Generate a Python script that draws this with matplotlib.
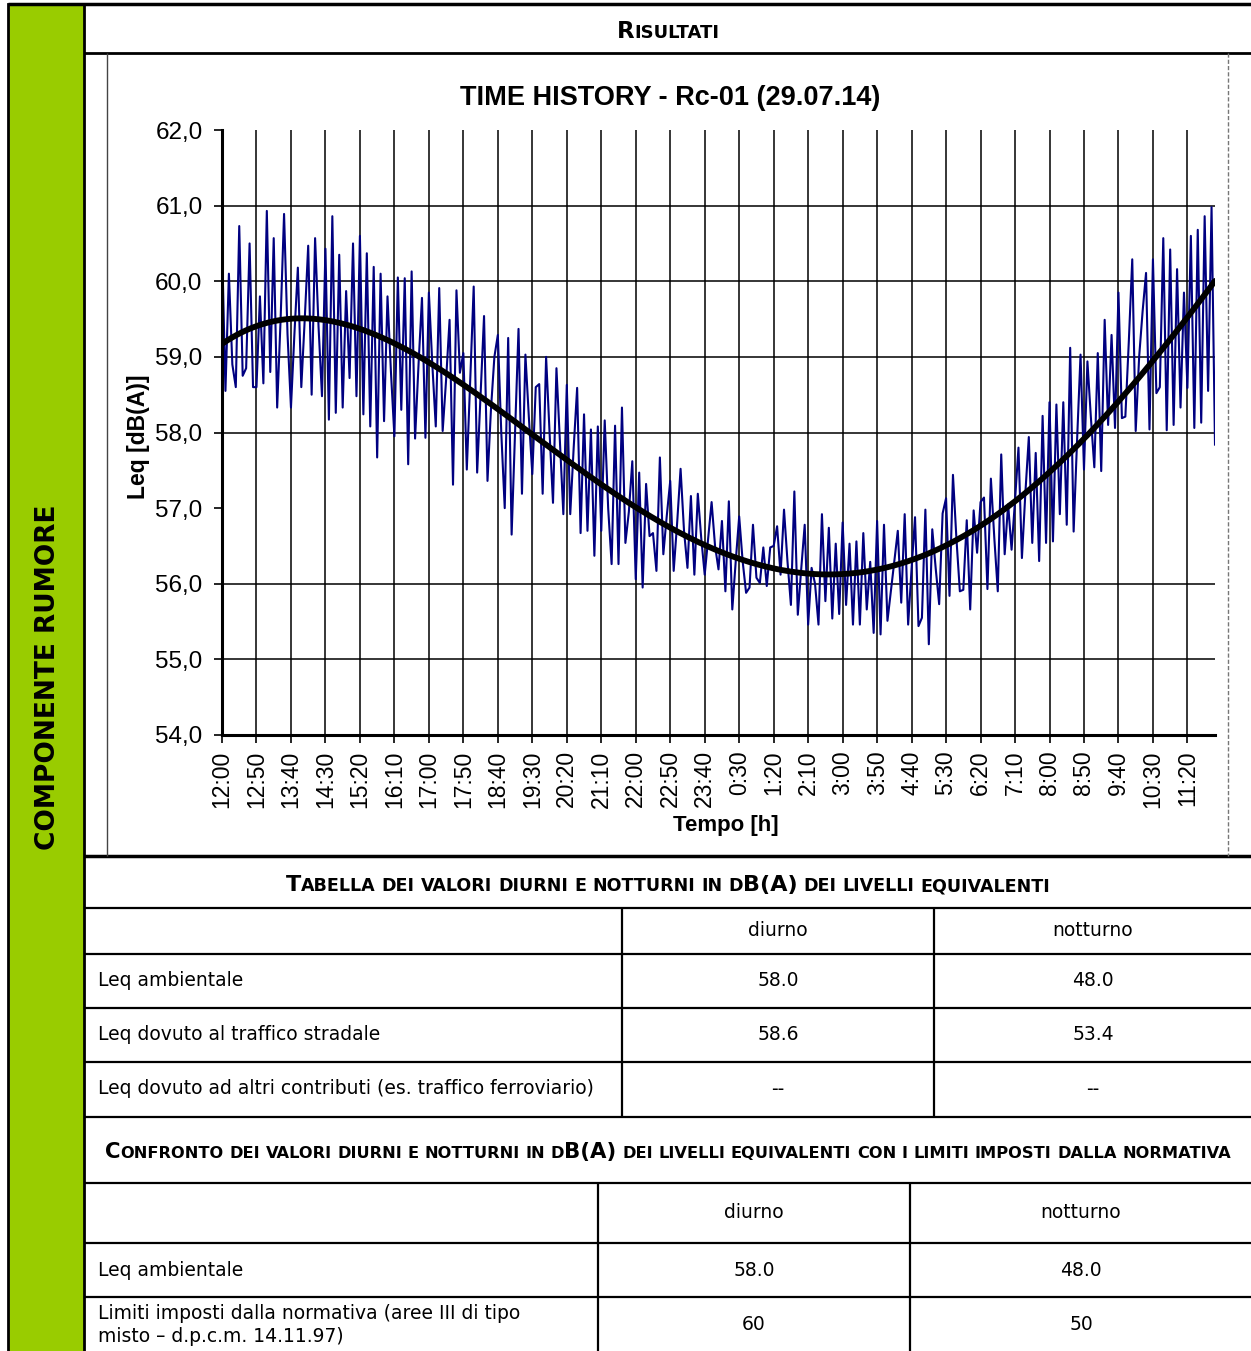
import numpy as np
import matplotlib
matplotlib.use("Agg")
import matplotlib.pyplot as plt
from matplotlib.patches import Rectangle

# ---------------- data ----------------
time_labels = ["12:00", "12:50", "13:40", "14:30", "15:20", "16:10", "17:00", "17:50",
               "18:40", "19:30", "20:20", "21:10", "22:00", "22:50", "23:40", "0:30",
               "1:20", "2:10", "3:00", "3:50", "4:40", "5:30", "6:20", "7:10", "8:00",
               "8:50", "9:40", "10:30", "11:20"]
label_every_min = 50
step_min = 5
total_min = 1440

leq_values = [
    60.5, 58.55, 60.1, 58.9, 58.6, 60.73, 58.75, 58.85, 60.5, 58.6,
    58.6, 59.8, 58.65, 60.93, 58.8, 60.57, 58.33, 59.5, 60.89, 59.3,
    58.33, 59.3, 60.18, 58.6, 59.5, 60.47, 58.5, 60.57, 59.4, 58.48,
    60.43, 58.17, 60.86, 58.26, 60.35, 58.33, 59.87, 58.72, 60.5, 58.48,
    60.6, 58.24, 60.37, 58.08, 60.19, 57.67, 60.1, 58.15, 59.8, 58.8,
    57.95, 60.05, 58.3, 60.04, 57.58, 60.13, 57.92, 58.9,
    59.78, 57.93, 59.85, 58.9, 58.08, 59.91, 58.02, 58.7, 59.49, 57.31,
    59.88, 58.79, 59.05, 57.51, 58.7, 59.93, 57.47, 58.5, 59.54, 57.36,
    58.3, 59.0, 59.29, 58.0, 57.0, 59.25, 56.65, 58.0, 59.37, 57.19,
    59.03, 58.2, 57.45, 58.6, 58.64, 57.19, 59.0, 58.0, 57.07, 58.85,
    57.9, 56.92, 58.63, 56.92, 57.8, 58.59, 56.67, 58.24, 56.7, 58.04,
    56.37, 58.08, 56.7, 58.16, 57.0, 56.26, 58.09, 56.26,
    58.33, 56.54, 56.95, 57.62, 56.06, 57.47, 55.95, 57.32, 56.63, 56.67,
    56.17, 57.67, 56.39, 56.9, 57.36, 56.17, 56.8, 57.52, 56.7, 56.21,
    57.16, 56.12, 57.19, 56.6, 56.12, 56.6, 57.08, 56.5, 56.19, 56.83,
    55.9, 57.09, 55.66, 56.3, 56.89, 56.3, 55.88, 55.95, 56.78, 56.08,
    56.01, 56.48, 55.97, 56.48, 56.5, 56.76, 56.12, 56.98, 56.3, 55.72,
    57.22, 55.59, 56.2, 56.78, 55.46, 56.21, 56.0, 55.46,
    56.92, 55.77, 56.74, 55.54, 56.53, 55.6, 56.81, 55.72, 56.53, 55.46,
    56.56, 55.46, 56.67, 55.66, 56.29, 55.35, 56.83, 55.33, 56.78, 55.51,
    55.9, 56.3, 56.7, 55.75, 56.92, 55.46, 56.2, 56.88, 55.44, 55.55,
    56.98, 55.2, 56.72, 56.2, 55.73, 56.93, 57.13, 55.84, 57.44, 56.6,
    55.9, 55.92, 56.84, 55.66, 56.97, 56.41, 57.08, 57.14, 55.93, 57.39,
    56.6, 55.9, 57.71, 56.39, 57.05, 56.45, 57.1, 57.8,
    56.34, 57.2, 57.94, 56.54, 57.73, 56.3, 58.22, 56.54, 58.4, 56.56,
    58.37, 56.92, 58.4, 56.78, 59.12, 56.69, 57.9, 59.03, 57.51, 58.94,
    58.2, 57.54, 59.05, 57.49, 59.49, 58.1, 59.29, 58.06, 59.85, 58.19,
    58.21, 59.2, 60.29, 58.02, 59.0, 59.6, 60.11, 58.04, 60.29, 58.52,
    58.6, 60.57, 58.03, 60.42, 58.1, 60.16, 58.33, 59.85, 58.59, 60.6,
    58.06, 60.68, 58.13, 60.86, 58.55, 60.98, 57.84,
]
y_ticks = [54, 55, 56, 57, 58, 59, 60, 61, 62]
y_grid_hidden = [54, 57, 62]
trend_degree = 4

table1_cols = ["diurno", "notturno"]
table1_rows = ["Leq ambientale", "Leq dovuto al traffico stradale",
               "Leq dovuto ad altri contributi (es. traffico ferroviario)"]
table1_diurno = ["58.0", "58.6", "--"]
table1_notturno = ["48.0", "53.4", "--"]
table2_cols = ["diurno", "notturno"]
table2_rows = ["Leq ambientale",
               "Limiti imposti dalla normativa (aree III di tipo\nmisto \u2013 d.p.c.m. 14.11.97)"]
table2_diurno = ["58.0", "60"]
table2_notturno = ["48.0", "50"]

chart_title = "TIME HISTORY - Rc-01 (29.07.14)"
y_label = "Leq [dB(A)]"
x_label = "Tempo [h]"
side_label = "COMPONENTE RUMORE"
header_main = "Risultati"
header_t1 = "Tabella dei valori diurni e notturni in dB(A) dei livelli equivalenti"
header_t2 = ("Confronto dei valori diurni e notturni in dB(A) dei livelli equivalenti "
             "con i limiti imposti dalla normativa")

# ---------------- figure ----------------
W, H = 1251, 1351
fig = plt.figure(figsize=(W / 100, H / 100), dpi=100)
bg = fig.add_axes([0, 0, 1, 1], zorder=0)
bg.set_xlim(0, W)
bg.set_ylim(H, 0)
bg.axis("off")

GREEN = "#99CC00"
TF = "DejaVu Sans"
AF = "Liberation Sans"

bg.add_patch(Rectangle((8, 4), 76, H, facecolor=GREEN, edgecolor="black", lw=2))
bg.text(48, 677, side_label, rotation=90, ha="center", va="center",
        fontsize=19, fontweight="bold", family=TF)

def hline(y, x0, x1, lw=1.6, color="black", ls="-"):
    bg.plot([x0, x1], [y, y], color=color, lw=lw, ls=ls, solid_capstyle="butt")

def vline(x, y0, y1, lw=1.6, color="black", ls="-"):
    bg.plot([x, x], [y0, y1], color=color, lw=lw, ls=ls, solid_capstyle="butt")

hline(4, 8, W, lw=2.5)
hline(53, 84, W, lw=2)
hline(856, 84, W, lw=2.5)
for yy in [908, 954, 1008, 1062, 1117, 1183, 1243, 1297]:
    hline(yy, 84, W, lw=1.6)
for xx in [622, 934]:
    vline(xx, 908, 1117)
for xx in [598, 910]:
    vline(xx, 1183, H)
vline(107, 53, 856, lw=1.0, color="#444444")
vline(1228, 53, 856, lw=1.0, color="#777777", ls=(0, (3, 1.5)))

renderer = fig.canvas.get_renderer()

def smallcaps(cx, baseline, s, big, small):
    tokens = []
    for ch in s:
        kind = "space" if ch == " " else ("small" if ch.islower() else "big")
        if tokens and tokens[-1][0] == kind and kind != "space":
            tokens[-1][1] += ch
        else:
            tokens.append([kind, ch])
    t1 = bg.text(0, 0, "x x", fontsize=small, fontweight="bold", family=TF)
    t2 = bg.text(0, 0, "xx", fontsize=small, fontweight="bold", family=TF)
    sp = t1.get_window_extent(renderer).width - t2.get_window_extent(renderer).width
    t1.remove(); t2.remove()
    items = []
    for kind, txt in tokens:
        if kind == "space":
            items.append((None, sp))
        else:
            t = bg.text(0, baseline, txt.upper(), fontsize=big if kind == "big" else small,
                        fontweight="bold", family=TF, ha="left", va="baseline")
            items.append((t, t.get_window_extent(renderer).width))
    total = sum(w for _, w in items)
    x = cx - total / 2
    for t, w in items:
        if t is not None:
            t.set_x(x)
        x += w

smallcaps(668, 38, header_main, 16.5, 13)
smallcaps(668, 891, header_t1, 16, 12.6)
smallcaps(668, 1158, header_t2, 15.3, 11.7)

# tables
TS = 13.5
for i, c in enumerate(table1_cols):
    cx = [778, 1093][i]
    bg.text(cx, 931, c, ha="center", va="center", fontsize=TS, family=TF)
row_y1 = [981, 1035, 1089]
for i, r in enumerate(table1_rows):
    bg.text(98, row_y1[i], r, ha="left", va="center", fontsize=TS, family=TF)
    bg.text(778, row_y1[i], table1_diurno[i], ha="center", va="center", fontsize=TS, family=TF)
    bg.text(1093, row_y1[i], table1_notturno[i], ha="center", va="center", fontsize=TS, family=TF)
for i, c in enumerate(table2_cols):
    cx = [754, 1081][i]
    bg.text(cx, 1213, c, ha="center", va="center", fontsize=TS, family=TF)
row_y2 = [1270, 1325]
for i, r in enumerate(table2_rows):
    bg.text(98, row_y2[i], r, ha="left", va="center", fontsize=TS, family=TF, linespacing=1.25)
    bg.text(754, row_y2[i], table2_diurno[i], ha="center", va="center", fontsize=TS, family=TF)
    bg.text(1081, row_y2[i], table2_notturno[i], ha="center", va="center", fontsize=TS, family=TF)

# chart labels
bg.text(670, 98, chart_title, ha="center", va="center", fontsize=19.5, fontweight="bold", family=AF)
bg.text(139, 437, y_label, ha="center", va="center", rotation=90, fontsize=16.5, fontweight="bold", family=AF)
bg.text(726, 826, x_label, ha="center", va="center", fontsize=16, fontweight="bold", family=AF)

# ---------------- chart ----------------
L, R, T, B = 222, 1215, 130, 735
ax = fig.add_axes([L / W, 1 - B / H, (R - L) / W, (B - T) / H], zorder=2)
ax.set_facecolor("none")

minutes = np.arange(len(leq_values)) * step_min
values = np.array(leq_values)
tick_pos = np.arange(len(time_labels)) * label_every_min

trend = np.polynomial.Polynomial.fit(minutes, values, trend_degree)
tx = np.linspace(minutes[0], minutes[-1], 600)

ax.plot(minutes, values, color="#000080", lw=1.5, zorder=3)
ax.plot(tx, trend(tx), color="black", lw=4.2, zorder=4, solid_capstyle="round")

ax.set_xlim(0, total_min)
ax.set_ylim(y_ticks[0], y_ticks[-1])
ax.set_xticks(tick_pos)
ax.set_xticklabels(time_labels, rotation=90, fontsize=16.5, family=AF)
ax.set_yticks(y_ticks)
ax.set_yticklabels([f"{v:.1f}".replace(".", ",") for v in y_ticks], fontsize=17.5, family=AF)

for v in y_ticks:
    if v not in y_grid_hidden:
        ax.axhline(v, color="black", lw=1.1, zorder=1)
for p in tick_pos[1:]:
    ax.axvline(p, color="black", lw=1.1, zorder=1)

for s in ["top", "right"]:
    ax.spines[s].set_visible(False)
for s in ["left", "bottom"]:
    ax.spines[s].set_linewidth(2.2)
    ax.spines[s].set_zorder(5)
ax.tick_params(axis="both", direction="out", length=6, width=1.2, color="black")
ax.tick_params(axis="x", pad=5)
ax.tick_params(axis="y", pad=8)

fig.savefig("out.png", dpi=100)
